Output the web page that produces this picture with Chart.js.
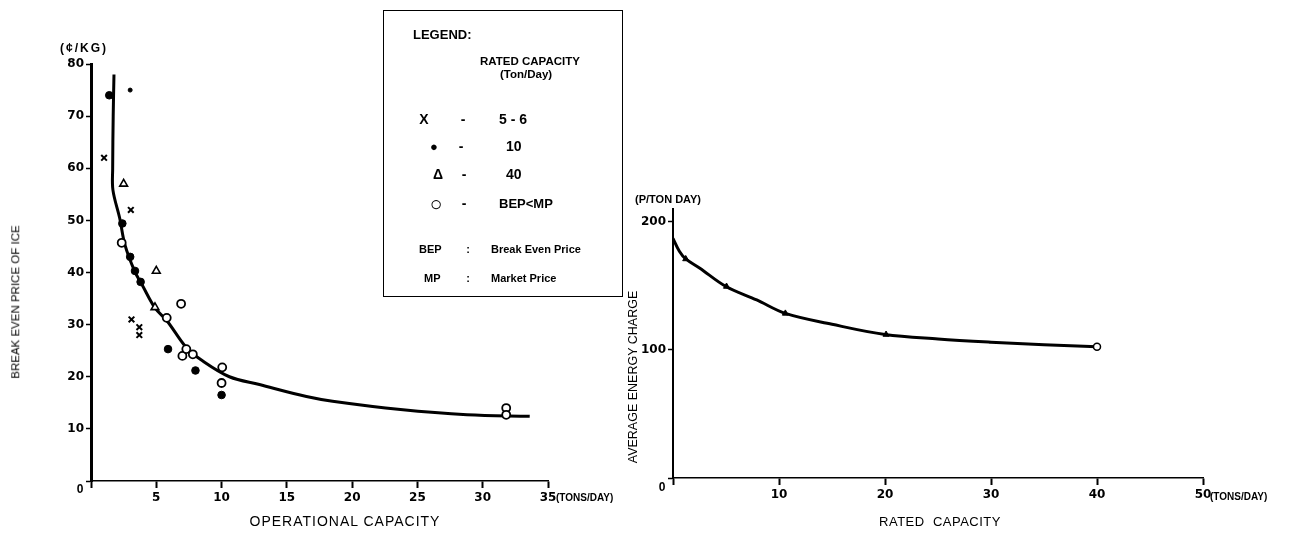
<!DOCTYPE html>
<html>
<head>
<meta charset="utf-8">
<script src="https://cdn.jsdelivr.net/npm/chart.js@4.4.1/dist/chart.umd.min.js"></script>
<style>
  html, body { margin: 0; padding: 0; background: #fff; }
  #page { position: relative; width: 1291px; height: 534px; overflow: hidden;
          font-family: "Liberation Sans", Arial, sans-serif; color: #000; }
  canvas { position: absolute; top: 0; }
  #opChart { left: 0; }
  #ratedChart { left: 600px; }
  .lbl { position: absolute; white-space: nowrap; line-height: 1; }
  .mid { transform: translate(-50%, -50%); }
  .vmid { transform: translateY(-50%); }
  .vert { transform: translate(-50%, -50%) rotate(-90deg); }
  .b { font-weight: bold; }
  #legend { position: absolute; left: 383px; top: 10px; width: 238px; height: 285px;
            border: 1.5px solid #000; }
</style>
</head>
<body>
<div id="page">
  <canvas id="opChart" width="640" height="534"></canvas>
  <canvas id="ratedChart" width="691" height="534"></canvas>

  <div class="lbl vmid b" style="left:60px; top:48px; font-size:12px; letter-spacing:2px;">(¢/KG)</div>
  <div class="lbl vert" style="left:16px; top:302px; font-size:11.5px;">BREAK EVEN PRICE OF ICE</div>
  <div class="lbl mid b" style="left:80px; top:489px; font-size:12px;">0</div>
  <div class="lbl vmid b" style="left:556px; top:498px; font-size:10px;">(TONS/DAY)</div>
  <div class="lbl mid" style="left:345px; top:521px; font-size:14px; letter-spacing:1px;">OPERATIONAL CAPACITY</div>

  <div class="lbl vmid b" style="left:635px; top:199px; font-size:11px;">(P/TON DAY)</div>
  <div class="lbl vert" style="left:633px; top:377px; font-size:12.5px;">AVERAGE ENERGY CHARGE</div>
  <div class="lbl mid b" style="left:662px; top:487px; font-size:12px;">0</div>
  <div class="lbl vmid b" style="left:1210px; top:497px; font-size:10px;">(TONS/DAY)</div>
  <div class="lbl mid" style="left:940px; top:521px; font-size:13px; letter-spacing:0.5px;">RATED&nbsp; CAPACITY</div>

  <div id="legend">
    <div class="lbl vmid b" style="left:29px; top:23px; font-size:13px;">LEGEND:</div>
    <div class="lbl vmid b" style="left:96px; top:51px; font-size:11.5px;">RATED CAPACITY</div>
    <div class="lbl vmid b" style="left:116px; top:64px; font-size:11.5px;">(Ton/Day)</div>

    <div class="lbl mid b" style="left:40px; top:108px; font-size:14px;">X</div>
    <div class="lbl mid b" style="left:79px; top:108px; font-size:14px;">-</div>
    <div class="lbl vmid b" style="left:115px; top:108px; font-size:14px;">5 - 6</div>

    <div class="lbl mid b" style="left:50px; top:135px; font-size:13px;">●</div>
    <div class="lbl mid b" style="left:77px; top:135px; font-size:14px;">-</div>
    <div class="lbl vmid b" style="left:122px; top:135px; font-size:14px;">10</div>

    <div class="lbl mid b" style="left:54px; top:163px; font-size:14px;">Δ</div>
    <div class="lbl mid b" style="left:80px; top:163px; font-size:14px;">-</div>
    <div class="lbl vmid b" style="left:122px; top:163px; font-size:14px;">40</div>

    <div class="lbl mid" style="left:52px; top:192px; font-size:21px;">○</div>
    <div class="lbl mid b" style="left:80px; top:192px; font-size:14px;">-</div>
    <div class="lbl vmid b" style="left:115px; top:192px; font-size:13px;">BEP&lt;MP</div>

    <div class="lbl vmid b" style="left:35px; top:238px; font-size:11px;">BEP</div>
    <div class="lbl mid b" style="left:84px; top:238px; font-size:11px;">:</div>
    <div class="lbl vmid b" style="left:107px; top:238px; font-size:11px;">Break Even Price</div>

    <div class="lbl vmid b" style="left:40px; top:267px; font-size:11px;">MP</div>
    <div class="lbl mid b" style="left:84px; top:267px; font-size:11px;">:</div>
    <div class="lbl vmid b" style="left:107px; top:267px; font-size:11px;">Market Price</div>
  </div>
</div>

<script>
// left chart: operational capacity (tons/day) vs break even price of ice (c/kg)
const opTicksX = [0, 5, 10, 15, 20, 25, 30, 35];
const opTicksY = [0, 10, 20, 30, 40, 50, 60, 70, 80];
const opCurveX = [1.76, 1.7, 1.66, 1.68, 2.2, 2.6, 3.35, 3.9, 4.9, 5.8, 7.3, 8.4, 10.6, 12.9, 16.5, 18.5, 23.7, 28.8, 33.6];
const opCurveY = [78, 70, 60, 55.8, 50.4, 45.3, 40.2, 37.7, 33.2, 30.8, 25.6, 23.3, 20.0, 18.5, 16.2, 15.3, 13.7, 12.7, 12.4];
const cross56X = [1.0, 3.05, 3.1, 3.7, 3.7];
const cross56Y = [62, 52, 31, 29.5, 28];
const dot10X = [1.4, 2.4, 3.0, 3.37, 3.8, 5.9, 8.0, 10.0];
const dot10Y = [74, 49.4, 43, 40.3, 38.2, 25.3, 21.2, 16.5];
const dot10SmallX = [3.0];
const dot10SmallY = [75];
const tri40X = [2.5, 5.0, 4.9];
const tri40Y = [57, 40.3, 33.3];
const bepX = [2.35, 6.9, 5.8, 7.0, 7.3, 7.8, 10.05, 10.0, 31.8, 31.8];
const bepY = [45.7, 34, 31.3, 24, 25.3, 24.3, 21.8, 18.8, 14, 12.7];

// right chart: rated capacity (tons/day) vs average energy charge (P/ton day)
const ratedTicksX = [0, 10, 20, 30, 40, 50];
const ratedTicksY = [0, 100, 200];
const ratedCurveX = [0, 0.6, 1.2, 2.5, 5, 7.9, 10.6, 15, 20, 25, 30, 35, 40];
const ratedCurveY = [187, 177, 171, 164, 149.5, 139, 128.5, 120, 112, 108.5, 106, 104, 102.5];
const ratedMarkX = [1.2, 5.05, 10.6, 20.1];
const ratedMarkY = [171, 149.5, 128.5, 112];
const ratedEndX = [40];
const ratedEndY = [102.5];

const zip = (xs, ys) => xs.map((x, i) => ({ x: x, y: ys[i] }));
const tickFont = { family: 'DejaVu Sans', size: 12, weight: 'bold' };
const fixTicks = (vals) => (axis) => { axis.ticks = vals.map(v => ({ value: v })); };

function axisX(min, max, ticks, dash) {
    return {
        type: 'linear', min: min, max: max,
        afterBuildTicks: fixTicks(ticks),
        afterFit: (s) => { s.height = 40; },
        border: { display: true, color: '#000', width: 1.5, dash: dash },
        grid: { drawOnChartArea: false, drawTicks: true, tickLength: 7, tickWidth: 2, tickColor: '#000' },
        ticks: { color: '#000', font: tickFont, padding: 3, maxRotation: 0,
                 callback: (v) => v === 0 ? '' : String(v) }
    };
}
function axisY(min, max, ticks, width) {
    return {
        type: 'linear', min: min, max: max,
        afterBuildTicks: fixTicks(ticks),
        afterFit: (s) => { s.width = 40; },
        border: { display: true, color: '#000', width: width },
        grid: { drawOnChartArea: false, drawTicks: true, tickLength: 5, tickWidth: 1.5, tickColor: '#000' },
        ticks: { color: '#000', font: tickFont, padding: 2,
                 callback: (v) => v === 0 ? '' : String(v) }
    };
}
const baseOpts = {
    responsive: false,
    animation: false,
    plugins: { legend: { display: false }, tooltip: { enabled: false } }
};

new Chart(document.getElementById('opChart'), {
    type: 'scatter',
    data: {
        datasets: [
            { data: zip(cross56X, cross56Y), pointStyle: 'crossRot', pointRadius: 4,
              borderColor: '#000', borderWidth: 2 },
            { data: zip(dot10X, dot10Y), pointStyle: 'circle', pointRadius: 3.8,
              backgroundColor: '#000', borderColor: '#000', borderWidth: 1 },
            { data: zip(dot10SmallX, dot10SmallY), pointStyle: 'circle', pointRadius: 2,
              backgroundColor: '#000', borderColor: '#000', borderWidth: 1 },
            { data: zip(tri40X, tri40Y), pointStyle: 'triangle', pointRadius: 4.5,
              backgroundColor: '#fff', borderColor: '#000', borderWidth: 1.6 },
            { data: zip(bepX, bepY), pointStyle: 'circle', pointRadius: 4,
              backgroundColor: '#fff', borderColor: '#000', borderWidth: 1.8 },
            { data: zip(opCurveX, opCurveY), showLine: true, pointRadius: 0,
              borderColor: '#000', borderWidth: 3, tension: 0.35, fill: false }
        ]
    },
    options: Object.assign({}, baseOpts, {
        layout: { padding: { left: 51, right: 92, top: 64, bottom: 13 } },
        scales: {
            x: axisX(0, 35, opTicksX, []),
            y: axisY(0, 80, opTicksY, 3)
        }
    })
});

new Chart(document.getElementById('ratedChart'), {
    type: 'scatter',
    data: {
        datasets: [
            { data: zip(ratedMarkX, ratedMarkY), pointStyle: 'triangle', pointRadius: 3.5,
              backgroundColor: '#000', borderColor: '#000', borderWidth: 1 },
            { data: zip(ratedEndX, ratedEndY), pointStyle: 'circle', pointRadius: 3.5,
              backgroundColor: '#fff', borderColor: '#000', borderWidth: 1.5 },
            { data: zip(ratedCurveX, ratedCurveY), showLine: true, pointRadius: 0,
              borderColor: '#000', borderWidth: 3, tension: 0.35, fill: false }
        ]
    },
    options: Object.assign({}, baseOpts, {
        layout: { padding: { left: 33, right: 88, top: 209, bottom: 16 } },
        scales: {
            x: axisX(0, 50, ratedTicksX, [16, 4]),
            y: axisY(0, 210, ratedTicksY, 2)
        }
    })
});
</script>
</body>
</html>
